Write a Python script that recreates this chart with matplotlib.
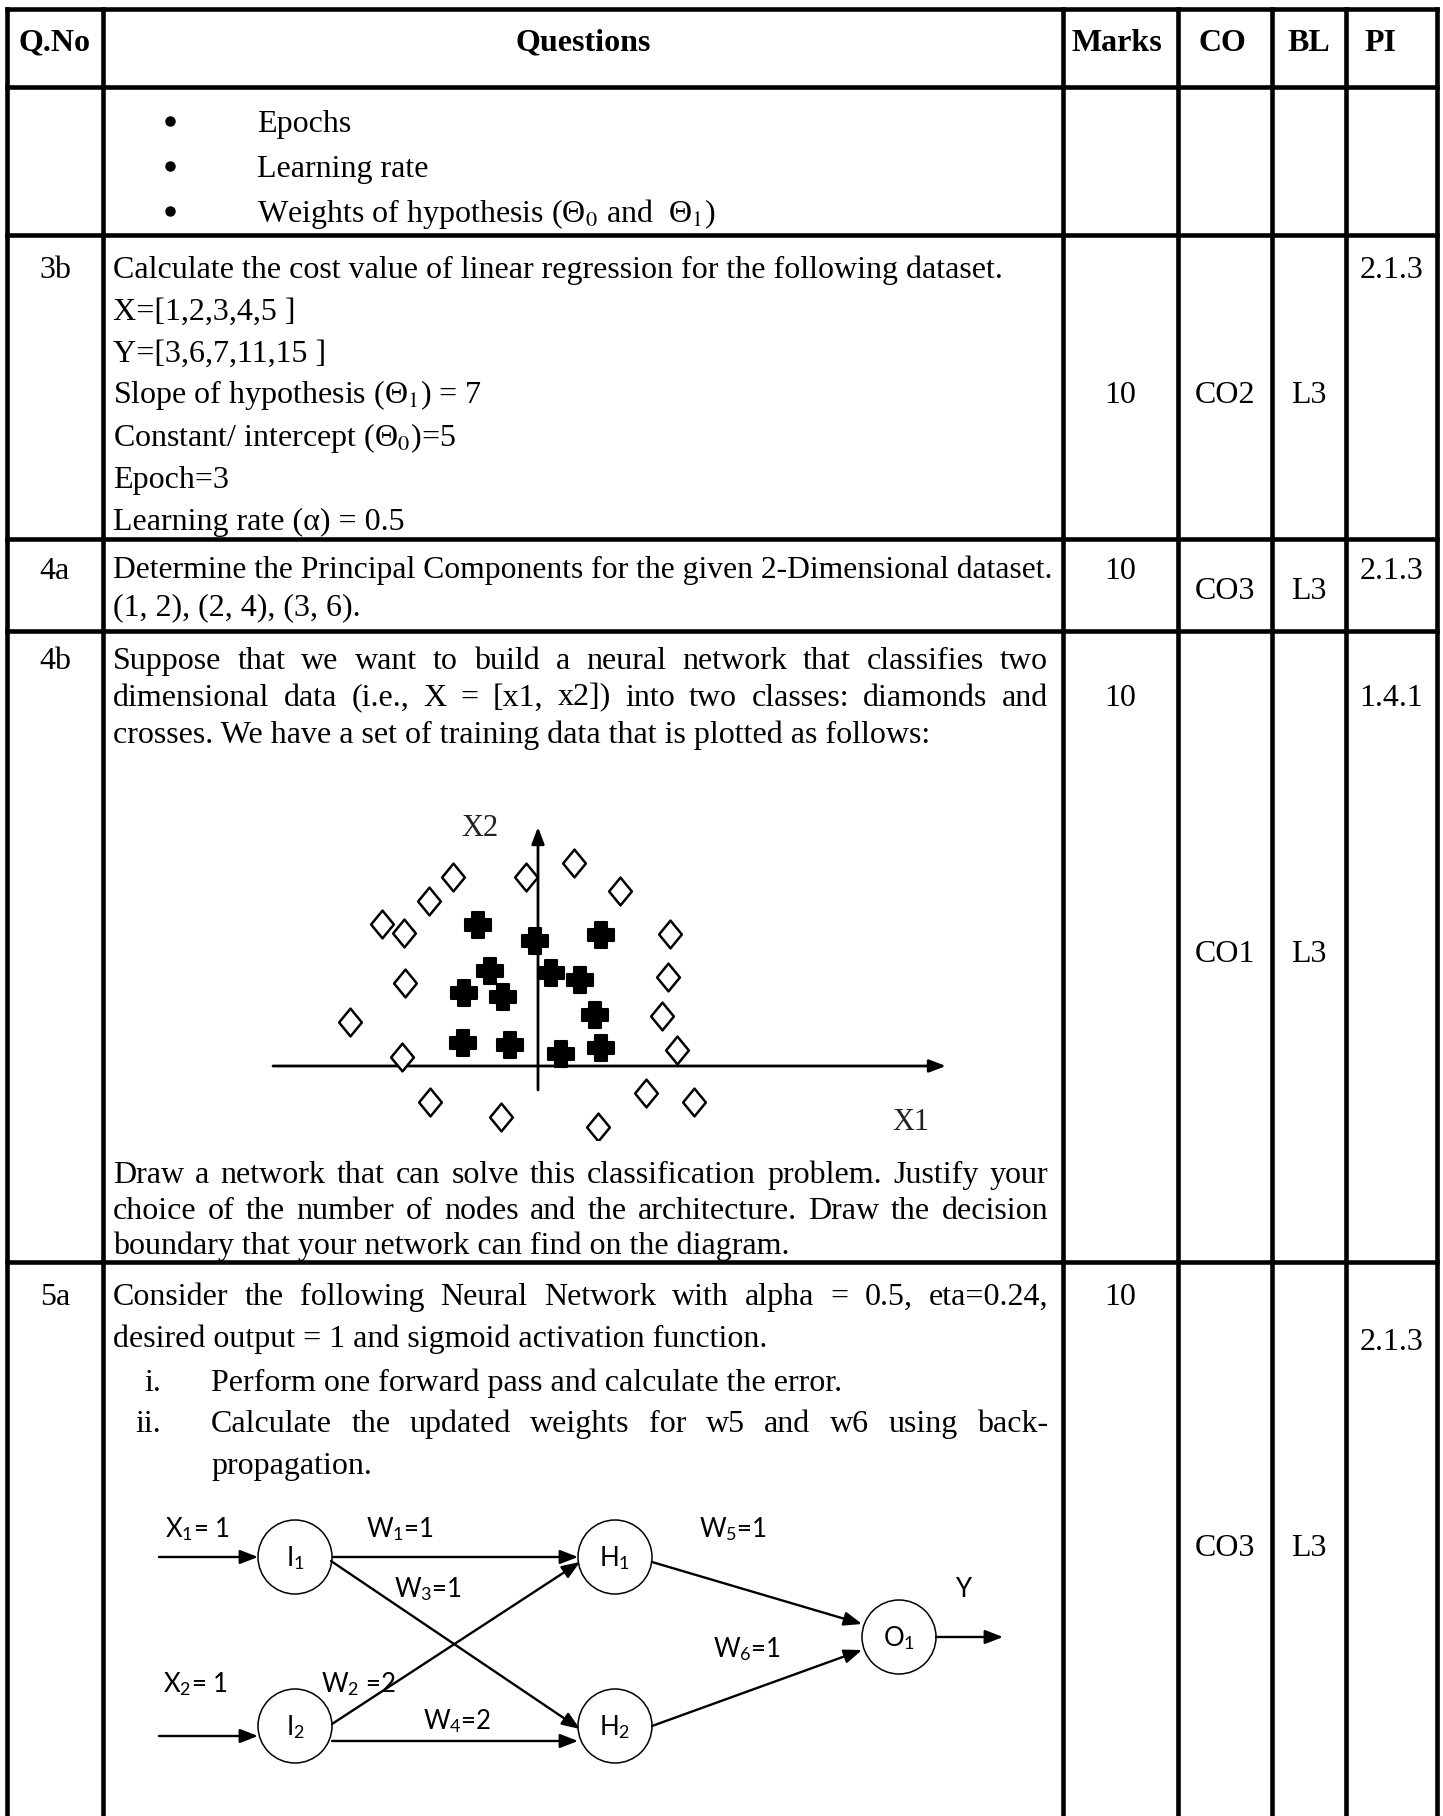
import matplotlib
matplotlib.use('Agg')
import matplotlib.pyplot as plt
from matplotlib.path import Path
from matplotlib.patches import Ellipse

W, H, DPI = 1443, 1816, 100
plt.rcParams['mathtext.fontset'] = 'custom'
plt.rcParams['mathtext.rm'] = 'Lato'
plt.rcParams['mathtext.it'] = 'Lato:italic'
plt.rcParams['mathtext.bf'] = 'Lato:bold'

SERIF = 'Liberation Serif'
SANS = 'Lato'
FS = 23

# ---------------- data ----------------
header_labels = ['Q.No', 'Questions', 'Marks', 'CO', 'BL', 'PI']
q_numbers = ['3b', '4a', '4b', '5a']
marks = ['10', '10', '10', '10']
course_outcomes = ['CO2', 'CO3', 'CO1', 'CO3']
bloom_levels = ['L3', 'L3', 'L3', 'L3']
perf_indicators = ['2.1.3', '2.1.3', '1.4.1', '2.1.3']

bullet_items = ['Epochs', 'Learning rate',
                r'Weights of hypothesis (Θ$_0$ and  Θ$_1$)']
q3b_lines = ['Calculate the cost value of linear regression for the following dataset.',
             'X=[1,2,3,4,5 ]',
             'Y=[3,6,7,11,15 ]',
             r'Slope of hypothesis (Θ$_1$) = 7',
             r'Constant/ intercept (Θ$_0$)=5',
             'Epoch=3',
             'Learning rate (α) = 0.5']
q4a_lines = ['Determine the Principal Components for the given 2-Dimensional dataset.',
             '(1, 2), (2, 4), (3, 6).']
q4b_intro = ['Suppose that we want to build a neural network that classifies two',
             'dimensional data (i.e., X = [x1, x2]) into two classes: diamonds and',
             'crosses. We have a set of training data that is plotted as follows:']
q4b_outro = ['Draw a network that can solve this classification problem. Justify your',
             'choice of the number of nodes and the architecture. Draw the decision',
             'boundary that your network can find on the diagram.']
q5a_intro = ['Consider the following Neural Network with alpha = 0.5, eta=0.24,',
             'desired output = 1 and sigmoid activation function.']
q5a_items = [('i.', ['Perform one forward pass and calculate the error.']),
             ('ii.', ['Calculate the updated weights for w5 and w6 using back-',
                      'propagation.'])]

# scatter of training data (x1, x2)
diamond_x1 = [-8.5, -1.2, 3.6, 8.2, -10.9, -15.6, -13.4, 13.2, -13.3, 13.0,
              -18.8, 12.4, -13.6, 13.9, -10.8, -3.7, 6.0, 10.8, 15.6]
diamond_x2 = [18.9, 18.9, 20.3, 17.5, 16.5, 14.2, 13.3, 13.2, 8.3, 8.9,
              4.4, 5.0, 0.9, 1.6, -3.6, -5.1, -6.1, -2.7, -3.6]
cross_x1 = [-6.0, -0.3, 6.3, -4.8, 1.3, 4.2, -7.4, -3.5, 5.7, -7.5, -2.8, 2.3, 6.3]
cross_x2 = [14.1, 12.5, 13.1, 9.5, 9.3, 8.6, 7.3, 6.9, 5.1, 2.3, 2.1, 1.2, 1.8]
axis_names = ['X1', 'X2']

# neural network
nn_inputs = [1, 1]
nn_weights = [1, 2, 1, 2, 1, 1]   # W1..W6
nn_output = 'Y'

# ---------------- figure ----------------
fig = plt.figure(figsize=(W / DPI, H / DPI), dpi=DPI)
ax = fig.add_axes([0, 0, 1, 1])
ax.set_xlim(0, W)
ax.set_ylim(H, 0)
ax.axis('off')
renderer = fig.canvas.get_renderer()

col_x = [7, 103, 1063, 1178, 1272, 1346, 1437]
row_y = [8.5, 87, 235, 539, 631, 1262]
LW = 3.3

for y in row_y:
    ax.plot([col_x[0], col_x[-1]], [y, y], color='black', lw=LW,
            solid_capstyle='projecting')
for x in col_x:
    ax.plot([x, x], [row_y[0], H + 5], color='black', lw=LW,
            solid_capstyle='projecting')


def put(x, yc, s, ha='left', bold=False, size=FS, fam=SERIF, mf='stix',
        color='black', a=None, k=0.33):
    a = a or ax
    return a.text(x, yc + k * size * DPI / 72, s, ha=ha, va='baseline',
                  fontsize=size, family=fam, math_fontfamily=mf,
                  weight='bold' if bold else 'normal', color=color)


def width_of(s, size=FS):
    t = ax.text(0, 0, s, fontsize=size, family=SERIF, math_fontfamily='stix')
    w = t.get_window_extent(renderer).width
    t.remove()
    return w


def justified(s, x0, x1, yc):
    words = s.split()
    ws = [width_of(w) for w in words]
    gap = (x1 - x0 - sum(ws)) / (len(words) - 1)
    x = x0
    for w, wd in zip(words, ws):
        put(x, yc, w)
        x += wd + gap


TX0, TX1 = 113, 1048
qcx = (col_x[0] + col_x[1]) / 2
mcx = (col_x[2] + col_x[3]) / 2
ccx = (col_x[3] + col_x[4]) / 2
bcx = (col_x[4] + col_x[5]) / 2
pcx = (col_x[5] + col_x[6]) / 2

# header
head_x = [qcx, (col_x[1] + col_x[2]) / 2, mcx - 4, ccx - 3, bcx, 1380]
for x, s in zip(head_x, header_labels):
    put(x, 40, s, ha='center', bold=True)

# bullets row
for yc, s in zip([121, 166, 211], bullet_items):
    ax.plot([170], [yc], marker='o', ms=6.5, color='black')
    put(257, yc, s)

# row 3b
q3b_y = [267, 309, 351, 392, 435, 477, 519]
for yc, s in zip(q3b_y, q3b_lines):
    put(TX0, yc, s)

# row 4a
put(TX0, 568, q4a_lines[0], size=22.8)
put(TX0, 605, q4a_lines[1])

# row 4b
justified(q4b_intro[0], TX0, TX1, 658)
justified(q4b_intro[1], TX0, TX1, 695)
put(TX0, 732, q4b_intro[2])
justified(q4b_outro[0], TX0, TX1, 1172)
justified(q4b_outro[1], TX0, TX1, 1208)
put(TX0, 1243, q4b_outro[2])

# row 5a
justified(q5a_intro[0], TX0, TX1, 1294)
put(TX0, 1336, q5a_intro[1])
put(161, 1380, q5a_items[0][0], ha='right')
put(211, 1380, q5a_items[0][1][0])
put(161, 1421, q5a_items[1][0], ha='right')
justified(q5a_items[1][1][0], 211, TX1, 1421)
put(211, 1463, q5a_items[1][1][1])

# side columns
qno_y = [267, 568, 658, 1294]
marks_y = [392, 568, 695, 1294]
co_y = [392, 588, 951, 1545]
pi_y = [267, 568, 695, 1339]
for i in range(4):
    put(qcx, qno_y[i], q_numbers[i], ha='center')
    put(mcx, marks_y[i], marks[i], ha='center')
    put(ccx, co_y[i], course_outcomes[i], ha='center')
    put(bcx, co_y[i], bloom_levels[i], ha='center')
    put(pcx, pi_y[i], perf_indicators[i], ha='center')

# ---------------- scatter (training data) ----------------
OX, OY, UNIT = 538, 1066, 10.0
L, R, T, B = 240, 990, 800, 1140
sax = fig.add_axes([L / W, 1 - B / H, (R - L) / W, (B - T) / H])
sax.set_xlim((L - OX) / UNIT, (R - OX) / UNIT)
sax.set_ylim((OY - B) / UNIT, (OY - T) / UNIT)
sax.axis('off')
arrow_kw = dict(arrowstyle='-|>,head_length=1.0,head_width=0.38', lw=2.0,
                color='black', shrinkA=0, shrinkB=0)
sax.annotate('', xy=(40.8, 0), xytext=(-26.5, 0), arrowprops=arrow_kw)
sax.annotate('', xy=(0, 23.9), xytext=(0, -2.4), arrowprops=arrow_kw)

diamond = Path([(0, 1), (0.82, 0), (0, -1), (-0.82, 0), (0, 1)],
               [Path.MOVETO, Path.LINETO, Path.LINETO, Path.LINETO, Path.CLOSEPOLY])
a, b = 0.5, 1.0
plus_v = [(-a, -b), (a, -b), (a, -a), (b, -a), (b, a), (a, a), (a, b), (-a, b),
          (-a, a), (-b, a), (-b, -a), (-a, -a), (-a, -b)]
plus = Path(plus_v, [Path.MOVETO] + [Path.LINETO] * 11 + [Path.CLOSEPOLY])

sax.plot(diamond_x1, diamond_x2, ls='none', marker=diamond, ms=20,
         mfc='white', mec='black', mew=1.8, zorder=3)
sax.plot(cross_x1, cross_x2, ls='none', marker=plus, ms=18.5,
         mfc='black', mec='black', mew=1.5, zorder=3)
sax.text(37.3, -5.6, axis_names[0], ha='center', va='center', fontsize=22,
         family=SERIF, color='#222222')
sax.text(-5.8, 23.7, axis_names[1], ha='center', va='center', fontsize=22,
         family=SERIF, color='#222222')

# ---------------- neural network diagram ----------------
NFS = 18.5
nodes = {'I1': (295, 1557), 'I2': (295, 1726), 'H1': (615, 1557),
         'H2': (615, 1726), 'O1': (899, 1637)}
node_labels = {'I1': r'I$_1$', 'I2': r'I$_2$', 'H1': r'H$_1$',
               'H2': r'H$_2$', 'O1': r'O$_1$'}
for k, (x, y) in nodes.items():
    ax.add_patch(Ellipse((x, y), 74, 74, fill=False, ec='black', lw=1.1))
    put(x, y, node_labels[k], ha='center', size=NFS, fam=SANS, mf='custom', k=0.36)


def arrow(p0, p1):
    ax.annotate('', xy=p1, xytext=p0,
                arrowprops=dict(arrowstyle='-|>,head_length=0.9,head_width=0.35',
                                lw=1.7, color='black', shrinkA=0, shrinkB=0,
                                mutation_scale=12))


arrow((159, 1557), (258, 1557))          # X1 -> I1
arrow((159, 1736), (258, 1736))          # X2 -> I2
arrow((333, 1557), (578, 1557))          # W1
arrow((331, 1561), (580, 1729))          # W3
arrow((332, 1724), (580, 1562))          # W2
arrow((332, 1741), (578, 1741))          # W4
arrow((652, 1562), (862, 1624))          # W5
arrow((652, 1726), (862, 1650))          # W6
arrow((936, 1637), (1003, 1637))         # Y

lab_kw = dict(size=NFS, fam=SANS, mf='custom', k=0.36)
put(197, 1528, r'X$_1$= %d' % nn_inputs[0], ha='center', **lab_kw)
put(195, 1683, r'X$_2$= %d' % nn_inputs[1], ha='center', **lab_kw)
w_pos = [(400, 1528), (359, 1683), (428, 1588), (457, 1720), (733, 1528), (747, 1648)]
for i, (x, y) in enumerate(w_pos):
    sep = ' =' if i == 1 else '='
    put(x, y, r'W$_%d$%s%d' % (i + 1, sep, nn_weights[i]), ha='center', **lab_kw)
put(963, 1588, nn_output, ha='center', **lab_kw)

fig.savefig('out.png', dpi=DPI)
